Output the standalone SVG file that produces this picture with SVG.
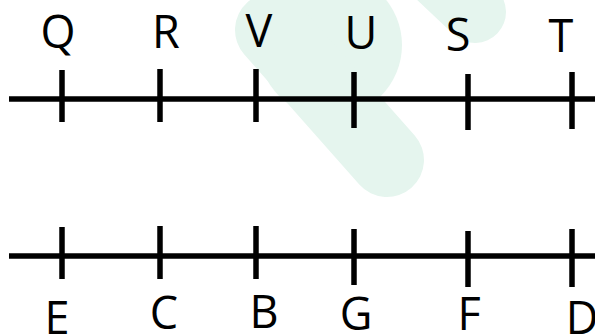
<svg xmlns="http://www.w3.org/2000/svg" width="595" height="336" viewBox="0 0 595 336">
<style>
.ln{stroke:#000;stroke-width:5.5;fill:none}
.tk{stroke:#000;stroke-width:5.5}
.lb{font-family:"Open Sans","Liberation Sans",sans-serif;font-size:45px;fill:#000;text-anchor:middle}
.wm{fill:#e5f5ee;stroke:none}
.wms{stroke:#e5f5ee;fill:none;stroke-linecap:round}
</style>
<rect width="595" height="336" fill="#fff"/>
<g id="watermark" opacity="1">
<circle class="wm" cx="330" cy="45" r="72"/>
<line class="wms" x1="272" y1="30" x2="387" y2="160" stroke-width="74"/>
<line class="wms" x1="420" y1="-40" x2="475" y2="12" stroke-width="62"/>
</g>
<g id="connectors">
<line class="ln" x1="9" y1="99" x2="595" y2="99"/>
<line class="ln" x1="9" y1="256" x2="595" y2="256"/>
</g>
<g id="Q"><line class="tk" x1="62" y1="70" x2="62" y2="122"/><text class="lb" x="58" y="48">Q</text></g>
<g id="R"><line class="tk" x1="160" y1="69" x2="160" y2="122"/><text class="lb" x="166" y="48">R</text></g>
<g id="V"><line class="tk" x1="256" y1="69" x2="256" y2="122"/><text class="lb" x="259" y="47">V</text></g>
<g id="U"><line class="tk" x1="354" y1="72" x2="354" y2="128"/><text class="lb" x="361" y="49">U</text></g>
<g id="S"><line class="tk" x1="468" y1="74" x2="468" y2="130"/><text class="lb" x="458" y="51">S</text></g>
<g id="T"><line class="tk" x1="572" y1="72" x2="572" y2="129"/><text class="lb" x="561" y="52">T</text></g>
<g id="E"><line class="tk" x1="62" y1="227" x2="62" y2="279"/><text class="lb" x="57" y="334">E</text></g>
<g id="C"><line class="tk" x1="160" y1="226" x2="160" y2="279"/><text class="lb" x="164" y="329">C</text></g>
<g id="B"><line class="tk" x1="256" y1="226" x2="256" y2="279"/><text class="lb" x="264" y="328">B</text></g>
<g id="G"><line class="tk" x1="354" y1="229" x2="354" y2="285"/><text class="lb" x="356" y="330">G</text></g>
<g id="F"><line class="tk" x1="468" y1="231" x2="468" y2="287"/><text class="lb" x="469" y="330">F</text></g>
<g id="D"><line class="tk" x1="572" y1="229" x2="572" y2="287"/><text class="lb" x="582" y="334">D</text></g>
</svg>
